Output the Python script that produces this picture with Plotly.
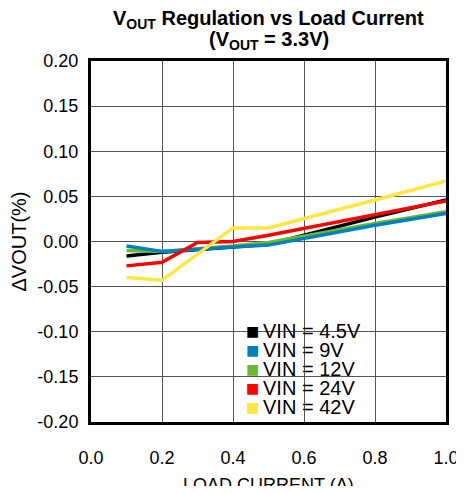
import plotly.graph_objects as go

# Data
load_a = [0.1, 0.2, 0.4, 0.5, 0.8, 1.0]
load_red = [0.1, 0.2, 0.3, 0.4, 0.5, 0.8, 1.0]
vin_45 = [-0.016, -0.012, -0.006, -0.003, 0.027, 0.046]
vin_9 = [-0.005, -0.011, -0.006, -0.004, 0.018, 0.031]
vin_12 = [-0.010, -0.011, -0.005, -0.001, 0.020, 0.033]
vin_24 = [-0.027, -0.023, -0.001, 0.000, 0.007, 0.030, 0.045]
vin_42 = [-0.040, -0.043, 0.015, 0.015, 0.046, 0.067]

labels = ["VIN = 4.5V", "VIN = 9V", "VIN = 12V", "VIN = 24V", "VIN = 42V"]
colors = ["#000000", "#0080c0", "#66bb33", "#ff0000", "#ffe640"]

x_ticks = [0.0, 0.2, 0.4, 0.6, 0.8, 1.0]
y_ticks = [-0.20, -0.15, -0.10, -0.05, 0.00, 0.05, 0.10, 0.15, 0.20]
y_ticktext = ["-0.20", "-0.15", "-0.10", "-0.05", "0.00", "0.05", "0.10", "0.15", "0.20"]

fig = go.Figure()

# lines (green under blue, yellow on top)
series = [(load_a, vin_45, 0), (load_a, vin_12, 2), (load_a, vin_9, 1),
          (load_red, vin_24, 3), (load_a, vin_42, 4)]
for xs, ys, k in series:
    fig.add_trace(go.Scatter(x=xs, y=ys, mode="lines", line=dict(color=colors[k], width=3.5),
                             showlegend=False, hoverinfo="skip"))

# page body has an 8px margin, so the figure is shifted by 8px
fig.update_layout(
    width=456, height=478,
    margin=dict(l=83, r=18, t=53, b=64),
    paper_bgcolor="white", plot_bgcolor="white",
    font=dict(family="Liberation Sans, Arial", size=17, color="black"),
    showlegend=False,
)

# title as two centred lines
fig.add_annotation(text="<b>V<sub>OUT</sub> Regulation vs Load Current</b>", xref="paper", yref="paper",
                   x=0.5, y=1, yshift=42, showarrow=False, font=dict(size=20), yanchor="middle")
fig.add_annotation(text="<b>(V<sub>OUT</sub> = 3.3V)</b>", xref="paper", yref="paper",
                   x=0.5, y=1, yshift=21, showarrow=False, font=dict(size=20), yanchor="middle")

# x axis title placed below the tick labels
fig.add_annotation(text="LOAD CURRENT (A)", xref="paper", yref="paper", x=0.5, y=0, yshift=-63,
                   xanchor="center", yanchor="middle", showarrow=False, font=dict(size=18))

# legend: white box + tight rows with square swatches
fig.add_shape(type="rect", xref="paper", yref="paper", x0=0.428, x1=0.775, y0=0.022, y1=0.288,
              fillcolor="white", line_width=0, layer="between")
for k, name in enumerate(labels):
    row_y = 0.2529 - k * 0.0526
    fig.add_annotation(text="■", xref="paper", yref="paper", x=0.456, y=row_y, yshift=0,
                       xanchor="center", yanchor="middle", showarrow=False,
                       font=dict(size=14, color=colors[k], family="DejaVu Sans"))
    fig.add_annotation(text=name, xref="paper", yref="paper", x=0.48, y=row_y,
                       xanchor="left", yanchor="middle", showarrow=False, font=dict(size=20))

fig.update_xaxes(range=[0, 1], tickvals=x_ticks, tickformat=".1f", showgrid=True,
                 gridcolor="#555555", gridwidth=1, showline=True, linecolor="black", linewidth=3,
                 mirror=True, ticks="", zeroline=False, ticklabelstandoff=17, automargin=False,
                 tickfont=dict(size=18))
fig.update_yaxes(range=[-0.20, 0.20], tickvals=y_ticks, ticktext=y_ticktext, showgrid=True,
                 gridcolor="#555555", gridwidth=1, showline=True, linecolor="black", linewidth=3,
                 mirror=True, ticks="", zeroline=False, ticklabelstandoff=6, automargin=False,
                 tickfont=dict(size=18), title=dict(text="ΔVOUT(%)", standoff=8))

fig.write_html("out.html")
